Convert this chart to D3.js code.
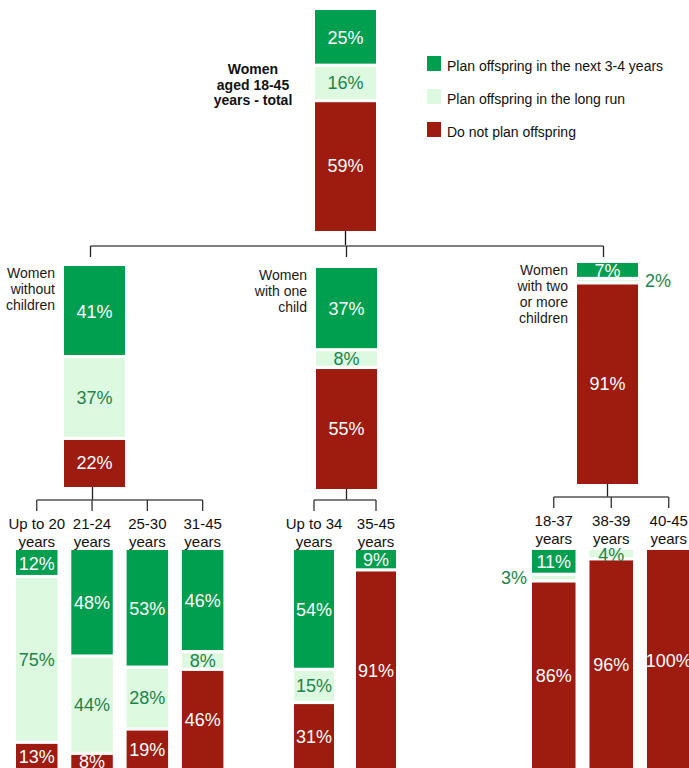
<!DOCTYPE html>
<html><head><meta charset="utf-8">
<script src="https://cdn.jsdelivr.net/npm/d3@7/dist/d3.min.js"></script>
<style>body{margin:0;background:#fff}svg{display:block}text{font-family:"Liberation Sans",Arial,sans-serif}</style>
</head><body>
<script>
// ---------- DATA ----------
const series = ["Plan offspring in the next 3-4 years","Plan offspring in the long run","Do not plan offspring"];
const totalLabel = ["Women","aged 18-45","years - total"];
const totalValues = [25,16,59];
const level2Labels = [["Women","without","children"],["Women","with one","child"],["Women","with two","or more","children"]];
const level2Values = [[41,37,22],[37,8,55],[7,2,91]];
const level3Labels = [
  [["Up to 20","years"],["21-24","years"],["25-30","years"],["31-45","years"]],
  [["Up to 34","years"],["35-45","years"]],
  [["18-37","years"],["38-39","years"],["40-45","years"]]
];
const level3Values = [
  [[12,75,13],[48,44,8],[53,28,19],[46,8,46]],
  [[54,15,31],[9,0,91]],
  [[11,3,86],[0,4,96],[0,0,100]]
];

// ---------- LAYOUT ----------
const W = 689, H = 768;
const svg = d3.select("body").append("svg").attr("width",W).attr("height",H);
const hScale = d3.scaleLinear().domain([0,100]).range([0,221]);
const color = d3.scaleOrdinal().domain(series).range(["#009e4f","#ddf9e0","#9e1b10"]);
const labelColor = d3.scaleOrdinal().domain(series).range(["#ffffff","#1e8449","#ffffff"]);
const GAP = 1.6;

const L1 = {x:315, w:61, top:10};
const L2 = {xs:[64,316,577], w:61, tops:[266,268,263]};
const L3 = {top:550, groups:[
  {range:[16,223.4], pad:0.25, hy:500, tick:511},
  {range:[294,396], pad:0.355, hy:500, tick:511},
  {range:[532,690.5], pad:0.243, hy:497, tick:508}
]};

const gLines = svg.append("g");
const gBars = svg.append("g");
const gText = svg.append("g");

function drawBar(x, w, top, values, spaceLeft, spaceRight) {
  let cum = 0;
  const segs = values.map((v,i)=>{ const s={v,i,y0:cum,y1:cum+v}; cum+=v; return s; }).filter(s=>s.v>0);
  segs.forEach((s,k)=>{
    const y0 = top + hScale(s.y0) + (k>0?GAP:0);
    const y1 = top + hScale(s.y1) - (k<segs.length-1?GAP:0);
    gBars.append("rect").attr("x",x).attr("y",y0).attr("width",w).attr("height",Math.max(0.8,y1-y0))
      .attr("fill",color(series[s.i]));
    const cy = top + hScale((s.y0+s.y1)/2);
    const segH = hScale(s.v);
    const t = gText.append("text").attr("y",cy).attr("dy","0.35em").attr("font-size",18).text(s.v+"%");
    if (segH < 8) {
      t.attr("fill","#1e8449");
      if (spaceRight > 35) t.attr("x",x+w+7).attr("text-anchor","start");
      else t.attr("x",x-5).attr("text-anchor","end");
    } else {
      t.attr("x",x+w/2).attr("text-anchor","middle").attr("fill",labelColor(series[s.i]));
    }
  });
}

function line(x1,y1,x2,y2,stroke,sw){
  gLines.append("line").attr("x1",x1).attr("y1",y1).attr("x2",x2).attr("y2",y2)
    .attr("stroke",stroke).attr("stroke-width",sw);
}

// Level 1
drawBar(L1.x, L1.w, L1.top, totalValues, 100, 100);
gText.append("text").attr("x",253).attr("y",74).attr("text-anchor","middle")
  .attr("font-size",14).attr("font-weight","bold").attr("fill","#111")
  .selectAll("tspan").data(totalLabel).join("tspan")
  .attr("x",253).attr("dy",(d,i)=>i?15.5:0).text(d=>d);

// connector L1 -> L2
const l1cx = L1.x + L1.w/2, l1bottom = L1.top + hScale(100);
const l2centers = L2.xs.map(x=>x+L2.w/2);
line(l1cx, l1bottom, l1cx, 246, "#111", 1.3);
line(d3.min(l2centers)-4, 246, d3.max(l2centers)-4, 246, "#808080", 2);
l2centers.forEach((c,i)=>line(c-4+ (i===1?4:0), 246, c-4+(i===1?4:0), 257, "#222", 1.3));

// Level 2
level2Values.forEach((vals,gi)=>{
  const x = L2.xs[gi], top = L2.tops[gi];
  const spaceRight = (gi < L2.xs.length-1 ? L2.xs[gi+1] : W) - (x+L2.w);
  drawBar(x, L2.w, top, vals, 50, spaceRight);
  gText.append("text").attr("text-anchor","end").attr("font-size",14).attr("fill","#1a1a1a")
    .selectAll("tspan").data(level2Labels[gi]).join("tspan")
    .attr("x",x-9).attr("y",(d,i)=>top+11.5+i*16.2).text(d=>d);

  // connector L2 -> L3
  const grp = L3.groups[gi];
  const band = d3.scaleBand().domain(level3Labels[gi].map(d=>d.join(" "))).range(grp.range)
    .paddingInner(grp.pad).paddingOuter(0);
  const centers = band.domain().map(d=>band(d)+band.bandwidth()/2);
  const cx = x + L2.w/2 - (gi===0?2:0);
  line(cx, top+hScale(100), cx, grp.hy, "#222", 1.3);
  line(d3.min(centers), grp.hy, d3.max(centers), grp.hy, "#555", 1.6);
  centers.forEach(c=>line(c, grp.hy, c, grp.tick, "#333", 1.3));

  // Level 3
  level3Values[gi].forEach((v3,bi)=>{
    const key = band.domain()[bi];
    const bx = band(key), bw = band.bandwidth();
    const next = bi < band.domain().length-1 ? band(band.domain()[bi+1]) : W;
    drawBar(bx, bw, L3.top, v3, 50, next-(bx+bw));
    gText.append("text").attr("text-anchor","middle").attr("font-size",15).attr("fill","#111")
      .selectAll("tspan").data(level3Labels[gi][bi]).join("tspan")
      .attr("x",bx+bw/2).attr("y",(d,i)=>(gi===2?526:529)+i*17.5).text(d=>d);
  });
});

// Legend
const legend = gText.append("g").attr("transform","translate(427,56)");
const li = legend.selectAll("g").data(series).join("g").attr("transform",(d,i)=>`translate(0,${i*33})`);
li.append("rect").attr("width",14).attr("height",15).attr("fill",d=>color(d));
li.append("text").attr("x",20).attr("y",14.5).attr("font-size",14).attr("fill","#111").text(d=>d);
</script>
</body></html>
